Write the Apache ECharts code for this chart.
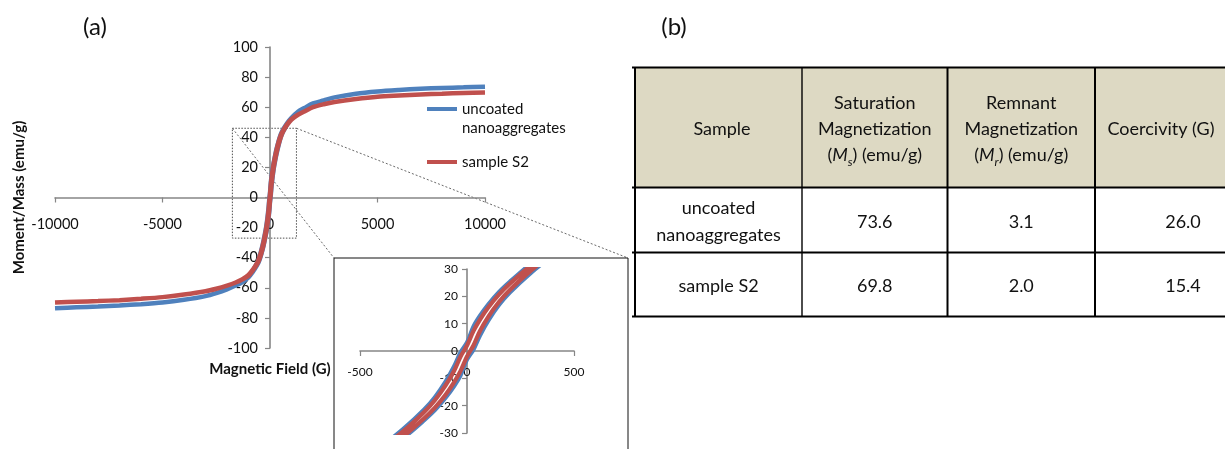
<!DOCTYPE html>
<html>
<head>
<meta charset="utf-8">
<script src="https://cdn.jsdelivr.net/npm/echarts@6/dist/echarts.min.js"></script>
<style>
  html, body { margin: 0; padding: 0; background: #ffffff; }
  #chart { width: 1225px; height: 449px; }
</style>
</head>
<body>
<div id="chart"></div>
<script>
const FONT = 'Lato, "Open Sans", sans-serif';

// Applied field (G), swept from +10 kG down to -10 kG
const fieldGrid = [10000, 9000, 8000, 7000, 6000, 5000, 4000, 3000, 2500, 2000, 1600, 1300,
  1000, 800, 600, 500, 400, 300, 200, 150, 100, 60, 30,
  0,
  -30, -60, -100, -150, -200, -300, -400, -500, -600, -800, -1000,
  -1300, -1600, -2000, -2500, -3000, -4000, -5000, -6000, -7000, -8000, -9000, -10000];

// Moment/mass (emu/g): upper = decreasing-field branch, lower = increasing-field branch
const uncoatedUpper = [73.6, 73.2, 72.8, 72.3, 71.5, 70.5, 69.0, 66.5, 64.5, 62.5, 59.5, 57.0,
  53.0, 49.5, 45.0, 42.0, 37.5, 32.0, 25.3, 21.6, 17.1, 12.8, 8.9,
  3.1,
  -0.5, -5.6, -11.2, -16.9, -21.4, -28.7, -34.8, -40.0, -43.6, -48.5, -52.4,
  -56.3, -58.5, -61.0, -63.5, -65.5, -68.0, -69.8, -70.9, -71.7, -72.4, -73.0, -73.6];
const uncoatedLower = [73.6, 73.2, 72.8, 72.3, 71.5, 70.5, 69.0, 66.5, 64.5, 62.5, 59.5, 57.0,
  52.4, 48.5, 43.6, 40.0, 34.8, 28.7, 21.4, 16.9, 11.2, 5.6, 0.5,
  -3.1,
  -8.9, -12.8, -17.1, -21.6, -25.3, -32.0, -37.5, -42.0, -45.0, -49.5, -53.0,
  -56.3, -58.5, -61.0, -63.5, -65.5, -68.0, -69.8, -70.9, -71.7, -72.4, -73.0, -73.6];
const s2Upper = [69.8, 69.5, 69.0, 68.5, 67.8, 67.0, 65.5, 63.5, 62.0, 60.0, 57.2, 55.0,
  52.0, 48.7, 44.3, 41.3, 37.0, 31.4, 24.6, 20.7, 16.0, 11.4, 7.25,
  2.0,
  -2.0, -7.25, -12.6, -18.0, -22.3, -29.5, -35.4, -40.1, -43.6, -48.0, -51.5,
  -54.5, -56.5, -58.5, -60.6, -62.3, -64.5, -66.2, -67.3, -68.2, -68.8, -69.3, -69.8];
const s2Lower = [69.8, 69.5, 69.0, 68.5, 67.8, 67.0, 65.5, 63.5, 62.0, 60.0, 57.2, 55.0,
  51.8, 48.3, 43.6, 40.1, 35.4, 29.5, 22.3, 18.0, 12.6, 7.25, 2.0,
  -2.0,
  -7.25, -11.4, -16.0, -20.7, -24.6, -31.4, -37.0, -41.3, -44.3, -48.5, -52.0,
  -54.5, -56.5, -58.5, -60.6, -62.3, -64.5, -66.2, -67.3, -68.2, -68.8, -69.3, -69.8];

const seriesNames = ['uncoated\nnanoaggregates', 'sample S2'];
const seriesColors = ['#4F81BD', '#C0504D'];

// Table (b)
const tableSamples = ['uncoated\nnanoaggregates', 'sample S2'];
const saturationMs = [73.6, 69.8];
const remnantMr = [3.1, 2.0];
const coercivityG = [26.0, 15.4];

// Zoomed window marked on the full loop (field G, moment emu/g)
const zoomWindow = { field: [-1750, 1230], moment: [-27, 46] };

// Full hysteresis loop: down the upper branch, back up the lower one
function loop(upper, lower) {
  const down = fieldGrid.map((h, i) => [h, upper[i]]);
  const up = fieldGrid.map((h, i) => [h, lower[i]]).reverse().slice(1);
  return down.concat(up);
}
const loops = [loop(uncoatedUpper, uncoatedLower), loop(s2Upper, s2Lower)];

// Plot areas: full loop and zoomed inset
const mainGrid = { left: 55, top: 47, width: 430, height: 301 };
const insetGrid = { left: 360, top: 269, width: 214, height: 164 };
const mainX = [-10000, 10000, 5000], mainY = [-100, 100, 20];
const insetX = [-500, 500, 500], insetY = [-30, 30, 10];

const axisGrey = '#868686';
// Axes cross at the origin: shift each axis into the plot by the position of zero
function crossAxis(dim, gi, grid, range, fontSize, margin, extra) {
  const frac = (0 - range[0]) / (range[1] - range[0]);
  const offset = dim === 'x' ? -grid.height * frac : -grid.width * frac;
  return Object.assign({
    type: 'value', gridIndex: gi, min: range[0], max: range[1], interval: range[2],
    position: dim === 'x' ? 'bottom' : 'left', offset: offset,
    axisLine: { onZero: false, lineStyle: { color: axisGrey, width: 1.6 } },
    axisTick: { show: true, length: 5, lineStyle: { color: axisGrey, width: 1.2 } },
    axisLabel: { fontSize: fontSize, fontFamily: FONT, color: '#111', margin: margin,
      formatter: v => String(v) },
    splitLine: { show: false }
  }, extra || {});
}
const nameStyle = { fontFamily: FONT, fontWeight: 'bold', fontSize: 15, color: '#111' };

const chart = echarts.init(document.getElementById('chart'), null, { renderer: 'canvas' });

const series = [];
[0, 1].forEach(g => {
  loops.forEach((d, k) => {
    series.push({
      name: seriesNames[k], type: 'line', xAxisIndex: g, yAxisIndex: g,
      data: d, showSymbol: false, smooth: 0.3, silent: true, clip: true,
      lineStyle: { color: seriesColors[k], width: g === 0 ? 4.5 : 4.2 },
      itemStyle: { color: seriesColors[k] },
      emphasis: { disabled: true }
    });
  });
});

chart.setOption({
  animation: false,
  backgroundColor: '#ffffff',
  grid: [
    Object.assign({ outerBoundsMode: 'none', containLabel: false }, mainGrid),
    Object.assign({ outerBoundsMode: 'none', containLabel: false }, insetGrid)
  ],
  xAxis: [
    crossAxis('x', 0, mainGrid, mainX, 14.5, 19, {
      name: 'Magnetic Field (G)', nameLocation: 'middle', nameGap: 164, nameTextStyle: nameStyle
    }),
    crossAxis('x', 1, insetGrid, insetX, 12, 15)
  ],
  yAxis: [
    crossAxis('y', 0, mainGrid, mainY, 14.5, 12, {
      name: 'Moment/Mass (emu/g)', nameLocation: 'middle', nameGap: 243, nameTextStyle: nameStyle
    }),
    crossAxis('y', 1, insetGrid, insetY, 12, 9)
  ],
  series: series
});

// Annotations, legend and table
const g = [];
const txt = (x, y, text, size, extra) => ({
  type: 'text', x: x, y: y, silent: true,
  style: Object.assign({ text: text, fill: '#111', fontFamily: FONT, fontSize: size,
    align: 'center', verticalAlign: 'middle' }, extra || {})
});
const seg = (x1, y1, x2, y2, style) => ({
  type: 'line', silent: true, shape: { x1: x1, y1: y1, x2: x2, y2: y2 }, style: style
});

g.push(txt(95, 27, '(a)', 24));
g.push(txt(674, 27, '(b)', 24));

// legend
const legendY = [109, 162];
seriesNames.forEach((name, k) => {
  const y = legendY[k];
  g.push(seg(427, y, 457, y, { stroke: seriesColors[k], lineWidth: 4 }));
  g.push(txt(462, y - 9.5, name, 15, { align: 'left', verticalAlign: 'top', lineHeight: 19 }));
});

// zoom window on the full loop and its connectors to the inset frame
const p0 = chart.convertToPixel({ gridIndex: 0 }, [zoomWindow.field[0], zoomWindow.moment[1]]);
const p1 = chart.convertToPixel({ gridIndex: 0 }, [zoomWindow.field[1], zoomWindow.moment[0]]);
const dotted = { stroke: '#222', lineWidth: 0.8, lineDash: [1.5, 1.5], fill: 'none' };
g.push({ type: 'rect', silent: true, shape: { x: p0[0], y: p0[1], width: p1[0] - p0[0], height: p1[1] - p0[1] }, style: dotted });
const inset = { x: 334, y: 258, w: 294, h: 220 };
g.push(seg(p0[0], p0[1], inset.x, inset.y, { stroke: '#444', lineWidth: 0.8, lineDash: [2, 2] }));
g.push(seg(p1[0], p0[1], inset.x + inset.w, inset.y, { stroke: '#444', lineWidth: 0.8, lineDash: [2, 2] }));
g.push({ type: 'rect', silent: true, shape: { x: inset.x, y: inset.y, width: inset.w, height: inset.h },
  style: { stroke: '#111', lineWidth: 1, fill: 'none' } });

// table (b)
const tX = [635, 802, 947.5, 1095, 1300];
const tY = [67.5, 187.5, 252.5, 316.5];
g.push({ type: 'rect', silent: true, shape: { x: tX[0], y: tY[0], width: tX[4] - tX[0], height: tY[1] - tY[0] },
  style: { fill: '#DDD9C3' } });
tY.forEach(y => g.push(seg(632, y, 1225, y, { stroke: '#000', lineWidth: 2 })));
tX.slice(0, 4).forEach((x, i) => g.push(seg(x, tY[0], x, tY[3], { stroke: '#000', lineWidth: i === 1 ? 1.4 : 2 })));

const TS = 18;
const rich = {
  n: { fontFamily: FONT, fontSize: TS, fill: '#111', lineHeight: 26 },
  i: { fontFamily: FONT, fontSize: TS, fill: '#111', fontStyle: 'italic', lineHeight: 26 },
  s: { fontFamily: FONT, fontSize: 12, fill: '#111', fontStyle: 'italic', lineHeight: 22, verticalAlign: 'bottom' }
};
const headY = (tY[0] + tY[1]) / 2 + 2;
g.push(txt(722, headY, 'Sample', TS));
g.push(txt((tX[1] + tX[2]) / 2, headY, '{n|Saturation}\n{n|Magnetization}\n{n|(}{i|M}{s|s}{n|) (emu/g)}', TS, { rich: rich }));
g.push(txt((tX[2] + tX[3]) / 2, headY, '{n|Remnant}\n{n|Magnetization}\n{n|(}{i|M}{s|r}{n|) (emu/g)}', TS, { rich: rich }));
g.push(txt(1161, headY, 'Coercivity (G)', TS));

tableSamples.forEach((name, r) => {
  const y = (tY[r + 1] + tY[r + 2]) / 2 + 2;
  g.push(txt((tX[0] + tX[1]) / 2, y, name, TS, { lineHeight: 27 }));
  g.push(txt((tX[1] + tX[2]) / 2, y, saturationMs[r].toFixed(1), TS));
  g.push(txt((tX[2] + tX[3]) / 2, y, remnantMr[r].toFixed(1), TS));
  g.push(txt(1183, y, coercivityG[r].toFixed(1), TS));
});

chart.setOption({ graphic: { elements: g } });
</script>
</body>
</html>
